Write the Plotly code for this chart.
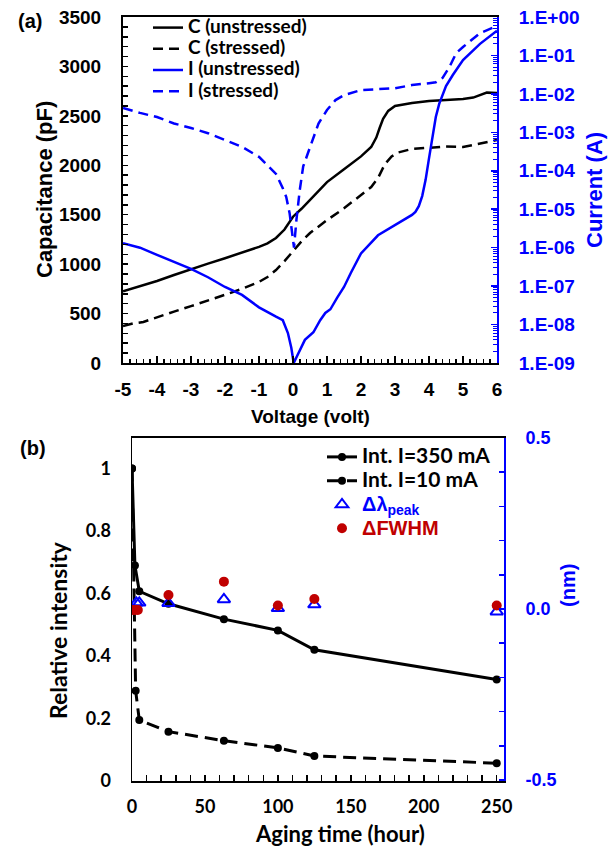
import plotly.graph_objects as go

# ---------------- Panel (a) data ----------------
V_C_UNSTR = [-5, -4.5, -4, -3.5, -3, -2.5, -2, -1.5, -1, -0.75, -0.5, -0.25, 0, 0.25, 0.5, 0.75, 1,
             1.5, 2, 2.3, 2.45, 2.55, 2.65, 2.8, 3, 3.5, 4, 4.5, 5, 5.3, 5.5, 5.7, 6]
C_UNSTR = [725, 775, 830, 890, 950, 1005, 1060, 1115, 1175, 1210, 1265, 1350, 1480, 1560, 1650, 1740, 1830,
           1960, 2090, 2185, 2280, 2380, 2470, 2550, 2600, 2630, 2650, 2660, 2670, 2685, 2710, 2735, 2730]

V_C_STR = [-5, -4.7, -4.4, -4, -3.5, -3, -2.5, -2, -1.5, -1, -0.75, -0.5, -0.25, 0, 0.25, 0.5, 1,
           1.5, 2, 2.3, 2.5, 2.7, 2.9, 3.1, 3.5, 4, 4.5, 5, 5.5, 6]
C_STR = [375, 400, 415, 465, 520, 575, 630, 690, 750, 820, 870, 940, 1030, 1130, 1230, 1315, 1445,
         1565, 1700, 1780, 1870, 2010, 2090, 2130, 2165, 2180, 2190, 2185, 2220, 2255]

V_I_UNSTR = [-5, -4.5, -4, -3.5, -3, -2.5, -2, -1.5, -1, -0.5, -0.3, -0.15, -0.05, 0.02, 0.1, 0.2, 0.35,
             0.6, 0.8, 0.95, 1.1, 1.3, 1.5, 1.7, 2, 2.5, 3, 3.5, 3.6, 3.7, 3.8, 3.9, 4.0, 4.1, 4.2,
             4.3, 4.4, 4.5, 4.7, 5.0, 5.5, 6.0]
I_UNSTR = [1.3e-6, 1.0e-6, 6.5e-7, 4.3e-7, 2.8e-7, 1.7e-7, 9.5e-8, 5.9e-8, 2.8e-8, 1.6e-8, 1.3e-8, 6.0e-9,
           2.5e-9, 1.0e-9, 1.4e-9, 2.2e-9, 4.0e-9, 6.3e-9, 1.3e-8, 2.0e-8, 2.5e-8, 5.0e-8, 9.5e-8, 2.2e-7,
           7.1e-7, 2.1e-6, 3.9e-6, 7.1e-6, 8.5e-6, 1.2e-5, 2.2e-5, 5.8e-5, 2.1e-4, 7.9e-4, 2.5e-3,
           5.5e-3, 1.0e-2, 1.6e-2, 3.1e-2, 7.6e-2, 0.2, 0.44]

V_I_STR = [-5, -4.5, -4, -3.5, -3, -2.5, -2, -1.5, -1, -0.5, -0.3, -0.2, -0.1, -0.02, 0.03, 0.1, 0.2,
           0.3, 0.5, 0.75, 1.0, 1.25, 1.5, 1.75, 2.0, 3.0, 3.5, 4.0, 4.2, 4.4, 4.6, 4.8, 5.0, 5.5, 6.0]
I_STR = [4.3e-3, 3.2e-3, 2.5e-3, 1.7e-3, 1.3e-3, 9.5e-4, 6.3e-4, 4.2e-4, 2.3e-4, 8.3e-5, 3.5e-5, 2.1e-5,
         7.9e-6, 2.0e-6, 1.0e-6, 5.2e-6, 3.2e-5, 1.3e-4, 4.2e-4, 1.7e-3, 3.8e-3, 6.9e-3, 9.3e-3, 1.1e-2,
         1.26e-2, 1.4e-2, 1.7e-2, 1.9e-2, 2.0e-2, 2.6e-2, 5.0e-2, 0.115, 0.166, 0.38, 0.59]

V_TICKVALS = [-5, -4, -3, -2, -1, 0, 1, 2, 3, 4, 5, 6]
V_TICKTEXT = ["-5", "-4", "-3", "-2", "-1", "0", "1", "2", "3", "4", "5", "6"]
C_TICKVALS = [0, 500, 1000, 1500, 2000, 2500, 3000, 3500]
I_TICKVALS = [1e-9, 1e-8, 1e-7, 1e-6, 1e-5, 1e-4, 1e-3, 1e-2, 1e-1, 1e0]
I_TICKTEXT = ["1.E-09", "1.E-08", "1.E-07", "1.E-06", "1.E-05", "1.E-04", "1.E-03", "1.E-02", "1.E-01", "1.E+00"]

# ---------------- Panel (b) data ----------------
T_350 = [0, 2, 5, 25, 63, 100, 125, 250]
INT_350 = [1.0, 0.69, 0.607, 0.567, 0.518, 0.482, 0.42, 0.325]
T_10 = [0, 2.5, 5, 25, 63, 100, 125, 250]
INT_10 = [1.0, 0.289, 0.195, 0.158, 0.129, 0.106, 0.080, 0.057]
T_PEAK = [0, 3, 5, 25, 63, 100, 125, 250]
D_PEAK = [-0.003, 0.018, 0.018, 0.017, 0.028, 0.002, 0.013, -0.008]
T_FWHM = [0, 2, 4, 25, 63, 100, 125, 250]
D_FWHM = [-0.003, -0.003, -0.003, 0.041, 0.080, 0.010, 0.029, 0.010]

T_TICKVALS = [0, 50, 100, 150, 200, 250]
REL_TICKVALS = [0, 0.2, 0.4, 0.6, 0.8, 1.0]
REL_TICKTEXT = ["0", "0.2", "0.4", "0.6", "0.8", "1"]
NM_TICKVALS = [-0.5, 0.0, 0.5]
NM_TICKTEXT = ["-0.5", "0.0", "0.5"]

BLUE = "#0000FF"
RED = "#C00000"
ARIAL = "Liberation Sans"
CALIBRI = "Lato"
W, H = 611, 846


def px(x):
    return x / W


def py(y):
    return 1 - y / H


def leg(text, size=19, color="black", fam=CALIBRI):
    return f'<span style="font-size:{size}px;font-family:{fam};color:{color}">{text}</span>'


fig = go.Figure()

# panel a traces
fig.add_trace(go.Scatter(x=V_C_UNSTR, y=C_UNSTR, mode="lines", line=dict(color="black", width=2.5),
                         name=leg("C (unstressed)"), xaxis="x", yaxis="y", legend="legend"))
fig.add_trace(go.Scatter(x=V_C_STR, y=C_STR, mode="lines", line=dict(color="black", width=2.5, dash="10px,6px"),
                         name=leg("C (stressed)"), xaxis="x", yaxis="y", legend="legend"))
fig.add_trace(go.Scatter(x=V_I_UNSTR, y=I_UNSTR, mode="lines", line=dict(color=BLUE, width=2.5),
                         name=leg("I (unstressed)"), xaxis="x", yaxis="y2", legend="legend"))
fig.add_trace(go.Scatter(x=V_I_STR, y=I_STR, mode="lines", line=dict(color=BLUE, width=2.5, dash="10px,6px"),
                         name=leg("I (stressed)"), xaxis="x", yaxis="y2", legend="legend"))

# panel b traces
fig.add_trace(go.Scatter(x=T_350, y=INT_350, mode="lines+markers", line=dict(color="black", width=3),
                         marker=dict(color="black", size=8), name=leg("Int. I=350 mA", 21),
                         xaxis="x2", yaxis="y3", legend="legend2"))
fig.add_trace(go.Scatter(x=T_10, y=INT_10, mode="lines+markers", line=dict(color="black", width=3, dash="13px,7px"),
                         marker=dict(color="black", size=8), name=leg("Int. I=10 mA", 21),
                         xaxis="x2", yaxis="y3", legend="legend2"))
fig.add_trace(go.Scatter(x=T_PEAK, y=D_PEAK, mode="markers",
                         marker=dict(symbol="triangle-up-open", color=BLUE, size=11, line=dict(width=2, color=BLUE)),
                         name=leg("Δλ<sub>peak</sub>", 20, BLUE, ARIAL),
                         xaxis="x2", yaxis="y4", legend="legend2"))
fig.add_trace(go.Scatter(x=T_FWHM, y=D_FWHM, mode="markers",
                         marker=dict(symbol="circle", color=RED, size=10),
                         name=leg("ΔFWHM", 20, RED, ARIAL),
                         xaxis="x2", yaxis="y4", legend="legend2"))

tick_a = dict(family=ARIAL, size=19, color="black", weight="bold")
tick_b = dict(family=CALIBRI, size=18, color="black", weight="bold")

fig.update_layout(
    template="none",
    width=W, height=H,
    margin=dict(l=0, r=0, t=0, b=0, autoexpand=False),
    paper_bgcolor="white", plot_bgcolor="white",
    showlegend=True,
    xaxis=dict(domain=[px(123), px(497)], anchor="y", range=[-5, 6], automargin=False,
               tickvals=V_TICKVALS, ticktext=V_TICKTEXT,
               ticks="inside", ticklen=7, tickwidth=1.5, tickcolor="black",
               minor=dict(ticks="inside", dtick=0.2, tick0=0, ticklen=4, tickwidth=1.5, tickcolor="black"),
               showline=True, linecolor="black", linewidth=2, mirror=True,
               showgrid=False, zeroline=False, tickfont=tick_a, ticklabelstandoff=8),
    yaxis=dict(domain=[py(363), py(17)], anchor="x", range=[0, 3500], automargin=False,
               tickvals=C_TICKVALS,
               ticks="inside", ticklen=5, tickwidth=1.5, tickcolor="black",
               minor=dict(ticks="inside", dtick=100, tick0=0, ticklen=5, tickwidth=1.5, tickcolor="black"),
               showline=True, linecolor="black", linewidth=2,
               showgrid=False, zeroline=False, tickfont=tick_a, ticklabelstandoff=16),
    yaxis2=dict(overlaying="y", anchor="x", side="right", type="log", range=[-9, 0], automargin=False,
                tickvals=I_TICKVALS, ticktext=I_TICKTEXT,
                ticks="inside", ticklen=6, tickwidth=1.5, tickcolor=BLUE,
                minor=dict(ticks="inside", dtick="D1", ticklen=4, tickwidth=1, tickcolor=BLUE),
                showline=True, linecolor=BLUE, linewidth=2,
                showgrid=False, zeroline=False,
                tickfont=dict(family=ARIAL, size=19, color=BLUE, weight="bold"), ticklabelstandoff=16),
    xaxis2=dict(domain=[px(132), px(504)], anchor="y3", range=[0, 255], automargin=False,
                tickvals=T_TICKVALS,
                ticks="inside", ticklen=6, tickwidth=1.5, tickcolor="black",
                minor=dict(ticks="inside", dtick=10, tick0=0, ticklen=6, tickwidth=1.5, tickcolor="black"),
                showline=True, linecolor="black", linewidth=2, mirror=True,
                showgrid=False, zeroline=False, tickfont=tick_b, ticklabelstandoff=8),
    yaxis3=dict(domain=[py(781), py(438)], anchor="x2", range=[0, 1.0976], automargin=False,
                tickvals=REL_TICKVALS, ticktext=REL_TICKTEXT, ticks="",
                showline=True, linecolor="black", linewidth=1.5,
                showgrid=False, zeroline=False, tickfont=tick_b, ticklabelstandoff=16),
    yaxis4=dict(overlaying="y3", anchor="x2", side="right", range=[-0.503, 0.5], automargin=False,
                tickvals=NM_TICKVALS, ticktext=NM_TICKTEXT,
                ticks="inside", ticklen=5, tickwidth=1.5, tickcolor=BLUE,
                minor=dict(ticks="inside", dtick=0.1, tick0=0, ticklen=5, tickwidth=1.5, tickcolor=BLUE),
                showline=True, linecolor=BLUE, linewidth=2,
                showgrid=False, zeroline=False,
                tickfont=dict(family=ARIAL, size=18, color=BLUE, weight="bold"), ticklabelstandoff=16),
    legend=dict(x=px(148), y=py(12), xanchor="left", yanchor="top", bgcolor="rgba(0,0,0,0)",
                borderwidth=0, font=dict(size=14, family=CALIBRI, color="black", weight="bold"),
                tracegroupgap=0),
    legend2=dict(x=px(322), y=py(440), xanchor="left", yanchor="top", bgcolor="rgba(0,0,0,0)",
                 borderwidth=0, font=dict(size=16, family=CALIBRI, color="black", weight="bold"),
                 tracegroupgap=0),
)

ann = [
    dict(text="(a)", x=px(30), y=py(21), font=dict(family=ARIAL, size=20, color="black", weight="bold")),
    dict(text="Capacitance (pF)", x=px(44), y=py(190), textangle=-90,
         font=dict(family=ARIAL, size=22, color="black", weight="bold")),
    dict(text="Voltage (volt)", x=px(310), y=py(416), font=dict(family=ARIAL, size=19, color="black", weight="bold")),
    dict(text="Current (A)", x=px(594), y=py(190), textangle=-90,
         font=dict(family=ARIAL, size=22, color=BLUE, weight="bold")),
    dict(text="(b)", x=px(33), y=py(448), font=dict(family=ARIAL, size=20, color="black", weight="bold")),
    dict(text="Relative intensity", x=px(58), y=py(630), textangle=-90,
         font=dict(family=CALIBRI, size=23, color="black", weight="bold")),
    dict(text="Aging time (hour)", x=px(340), y=py(833), font=dict(family=CALIBRI, size=22, color="black", weight="bold")),
    dict(text="(nm)", x=px(568), y=py(586), textangle=-90, font=dict(family=ARIAL, size=20, color=BLUE, weight="bold")),
]
for a in ann:
    a.update(xref="paper", yref="paper", xanchor="center", yanchor="middle", showarrow=False)
fig.update_layout(annotations=ann)

fig.write_html("out.html", config={"displayModeBar": False, "staticPlot": True},
               post_script="document.body.style.margin='0px';document.body.style.padding='0px';")
